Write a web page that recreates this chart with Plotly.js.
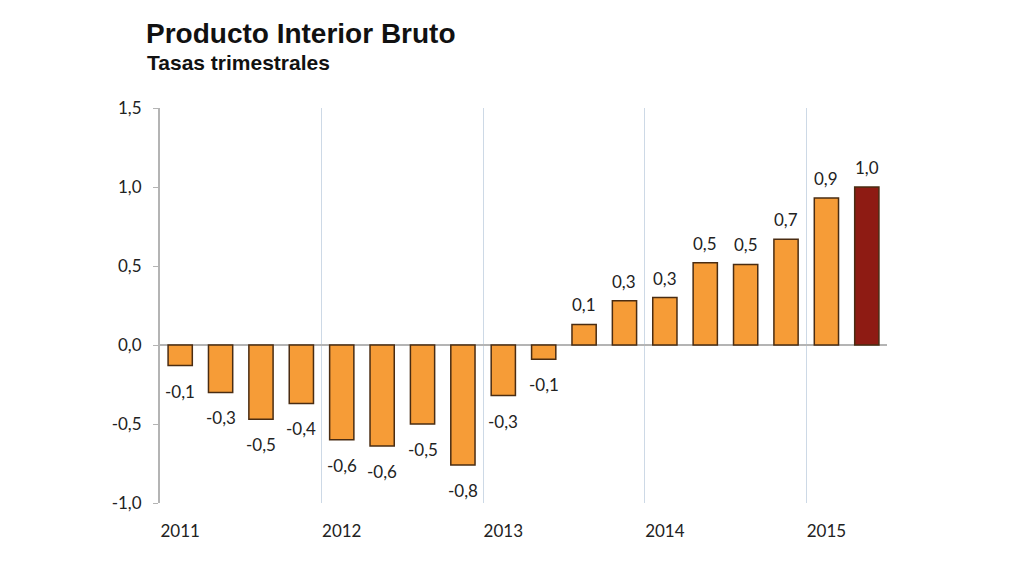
<!DOCTYPE html>
<html>
<head>
<meta charset="utf-8">
<script src="https://cdn.plot.ly/plotly-3.0.1.min.js"></script>
<style>
  html, body { margin: 0; padding: 0; background: #fff; }
  #chart { width: 1024px; height: 576px; }
</style>
</head>
<body>
<div id="chart"></div>
<script>
// Tasas trimestrales del PIB, 2011 T1 - 2015 T2
var quarters = ['2011T1','2011T2','2011T3','2011T4','2012T1','2012T2','2012T3','2012T4',
                '2013T1','2013T2','2013T3','2013T4','2014T1','2014T2','2014T3','2014T4',
                '2015T1','2015T2'];
var values = [-0.13, -0.30, -0.47, -0.37, -0.60, -0.64, -0.50, -0.76,
              -0.32, -0.09, 0.13, 0.28, 0.30, 0.52, 0.51, 0.67, 0.93, 1.00];
var labels = ['-0,1','-0,3','-0,5','-0,4','-0,6','-0,6','-0,5','-0,8',
              '-0,3','-0,1','0,1','0,3','0,3','0,5','0,5','0,7','0,9','1,0'];
var yearTicks = [0, 4, 8, 12, 16];
var yearLabels = ['2011', '2012', '2013', '2014', '2015'];
var yTicks = [-1, -0.5, 0, 0.5, 1, 1.5];
var yTickLabels = ['-1,0', '-0,5', '0,0', '0,5', '1,0', '1,5'];

var idx = quarters.map((q, i) => i);
var colors = quarters.map((q, i) => i === quarters.length - 1 ? '#8E1B13' : '#F69C37');
var numFont = 'Lato, "Open Sans", sans-serif';

var data = [{
  x: idx,
  y: values,
  type: 'bar',
  width: 0.6,
  marker: {
    color: colors,
    line: { color: '#4a2c12', width: 1.5 }
  },
  hovertext: quarters,
  hoverinfo: 'text+y'
}];

// etiquetas de valor: encima si positivo, debajo si negativo
var annotations = values.map((v, i) => ({
  x: i,
  y: v,
  xref: 'x',
  yref: 'y',
  text: labels[i],
  showarrow: false,
  yanchor: v >= 0 ? 'bottom' : 'top',
  yshift: v >= 0 ? 7 : -13,
  font: { family: numFont, size: 17, color: '#222' }
}));

annotations.push({
  xref: 'paper', yref: 'paper',
  x: -15 / 727, y: 1 + 46 / 395,
  xanchor: 'left', yanchor: 'middle',
  text: '<b>Tasas trimestrales</b>',
  showarrow: false,
  font: { family: '"Liberation Sans", Arial, sans-serif', size: 21, color: '#111' }
});

var layout = {
  width: 1024,
  height: 576,
  title: {
    text: '<b>Producto Interior Bruto</b>',
    font: { family: '"Liberation Sans", Arial, sans-serif', size: 28, color: '#111' },
    xref: 'container', yref: 'container',
    x: 146 / 1024, xanchor: 'left',
    y: 1 - 33 / 576, yanchor: 'middle'
  },
  paper_bgcolor: '#fff',
  plot_bgcolor: '#fff',
  margin: { l: 160, r: 137, t: 108, b: 73 },
  showlegend: false,
  xaxis: {
    range: [-0.5, 17.5],
    tickvals: yearTicks,
    ticktext: yearLabels,
    showgrid: false,
    zeroline: false,
    ticks: '',
    ticklabelstandoff: 16,
    tickfont: { family: numFont, size: 17, color: '#222' },
    minor: {
      tick0: 3.5,
      dtick: 4,
      showgrid: true,
      gridcolor: '#cdd9e6',
      gridwidth: 1,
      ticks: ''
    }
  },
  yaxis: {
    range: [-1, 1.5],
    tickvals: yTicks,
    ticktext: yTickLabels,
    showgrid: false,
    zeroline: true,
    zerolinecolor: '#b4b4b4',
    zerolinewidth: 2,
    showline: true,
    linecolor: '#b4b4b4',
    linewidth: 2,
    ticks: 'outside',
    ticklen: 5,
    tickcolor: '#b4b4b4',
    ticklabelstandoff: 8,
    tickfont: { family: numFont, size: 17, color: '#222' }
  },
  annotations: annotations
};

Plotly.newPlot('chart', data, layout, { displayModeBar: false, staticPlot: true });
</script>
</body>
</html>
